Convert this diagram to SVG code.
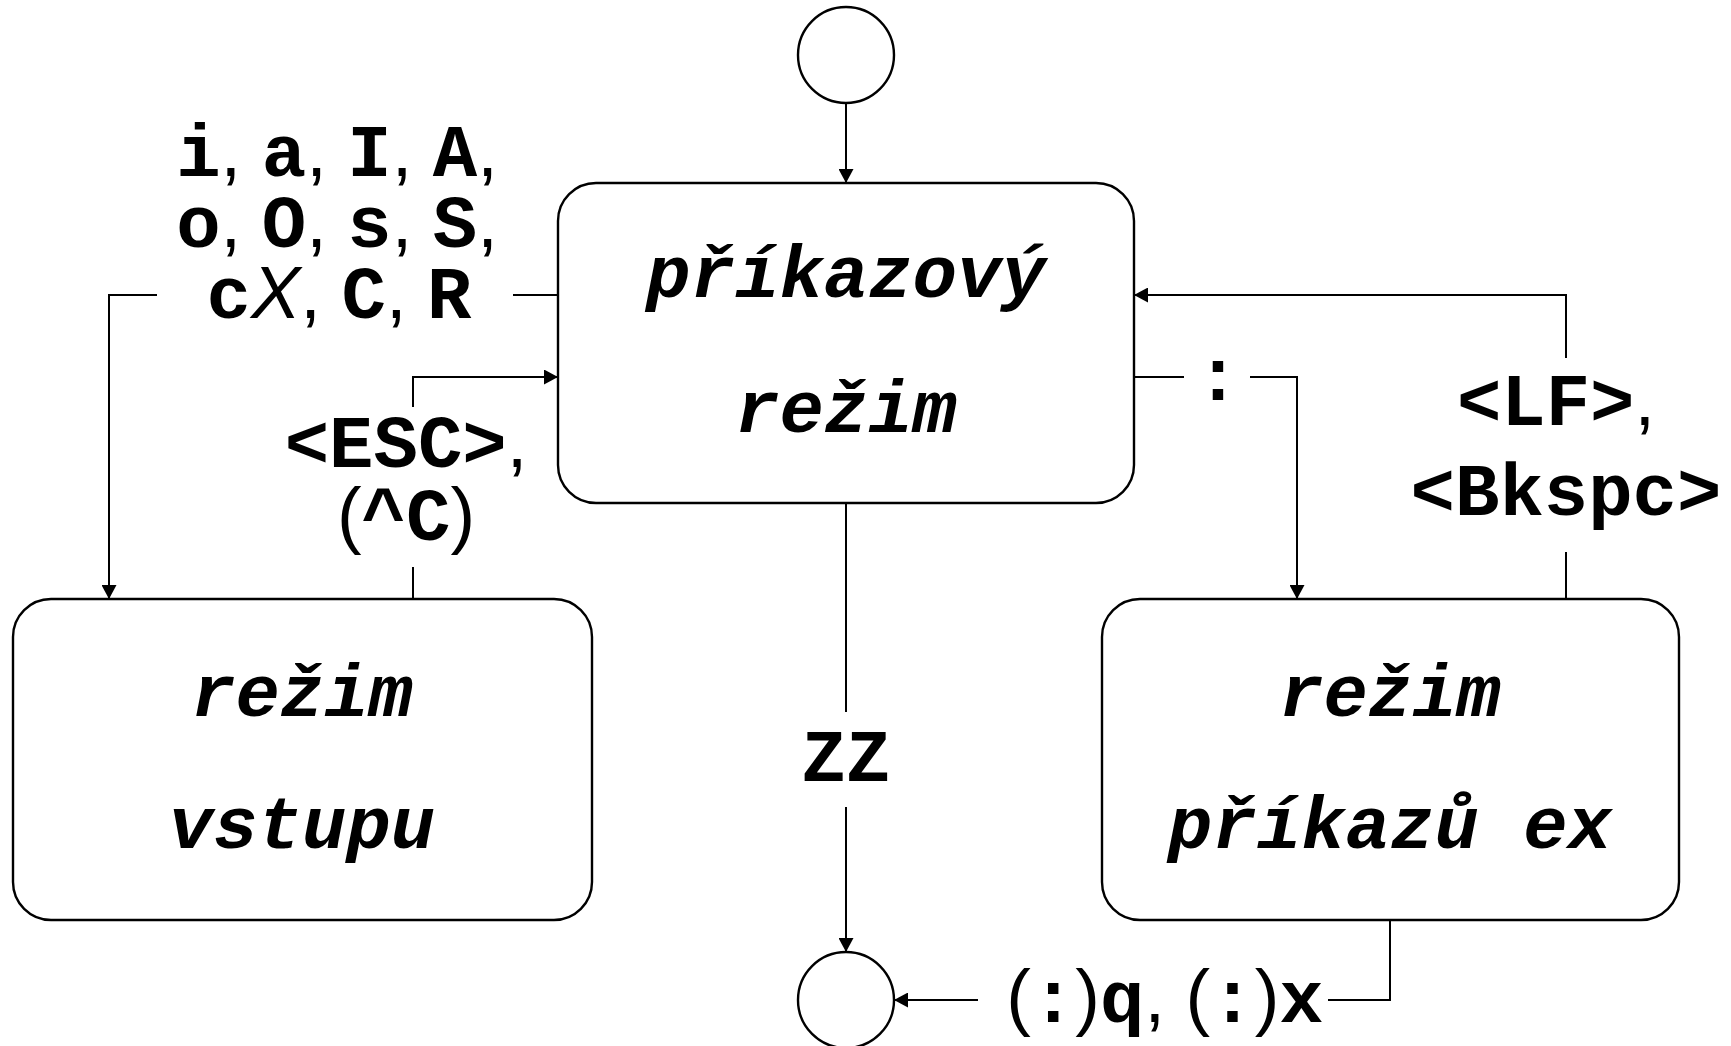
<svg xmlns="http://www.w3.org/2000/svg" width="1731" height="1046" viewBox="0 0 1731 1046">
<style>
.shape{fill:#fff;stroke:#000;stroke-width:2.4}
.edge{fill:none;stroke:#000;stroke-width:2}
.node{font-family:"Liberation Mono","Courier New",monospace;font-weight:bold;font-style:italic;font-size:74px;text-anchor:middle;fill:#000}
.lbl{font-family:"Liberation Mono","Courier New",monospace;font-weight:bold;font-size:74px;text-anchor:middle;fill:#000}
.p{font-family:"Liberation Sans",Arial,sans-serif;font-weight:normal}
.pi{font-family:"Liberation Sans",Arial,sans-serif;font-weight:normal;font-style:italic}
</style>
<defs>
<marker id="ah" markerUnits="userSpaceOnUse" markerWidth="14" markerHeight="15" refX="14" refY="7.5" orient="auto">
<path d="M0,0 L14,7.5 L0,15 z" fill="#000"/>
</marker>
</defs>
<rect width="1731" height="1046" fill="#fff"/>

<g id="start">
<circle class="shape" cx="846" cy="55" r="48"/>
</g>
<g id="end">
<circle class="shape" cx="846" cy="1000" r="48"/>
</g>
<g id="prikazovy">
<rect class="shape" x="558" y="183" width="576" height="320" rx="38" ry="38"/>
<text class="node" x="846" y="297">příkazový</text>
<text class="node" x="846" y="432">režim</text>
</g>
<g id="vstup">
<rect class="shape" x="13" y="599" width="579" height="321" rx="38" ry="38"/>
<text class="node" x="302" y="716">režim</text>
<text class="node" x="302" y="848">vstupu</text>
</g>
<g id="ex">
<rect class="shape" x="1102" y="599" width="577" height="321" rx="38" ry="38"/>
<text class="node" x="1390" y="716">režim</text>
<text class="node" x="1390" y="848">příkazů ex</text>
</g>

<g id="connectors">
<path class="edge" d="M846,103 V183" marker-end="url(#ah)"/>
<path class="edge" d="M558,295 H513"/>
<path class="edge" d="M157,295 H109 V599" marker-end="url(#ah)"/>
<path class="edge" d="M413,599 V567"/>
<path class="edge" d="M413,407 V377 H558" marker-end="url(#ah)"/>
<path class="edge" d="M1134,377 H1184"/>
<path class="edge" d="M1250,377 H1297 V599" marker-end="url(#ah)"/>
<path class="edge" d="M1566,599 V552"/>
<path class="edge" d="M1566,358 V295 H1134" marker-end="url(#ah)"/>
<path class="edge" d="M846,503 V712"/>
<path class="edge" d="M846,807 V952" marker-end="url(#ah)"/>
<path class="edge" d="M1390,920 V1000 H1328"/>
<path class="edge" d="M978,1000 H894" marker-end="url(#ah)"/>
</g>

<g id="labels">
<text class="lbl" x="337" y="176">i<tspan class="p">, </tspan>a<tspan class="p">, </tspan>I<tspan class="p">, </tspan>A<tspan class="p">,</tspan></text>
<text class="lbl" x="337" y="247">o<tspan class="p">, </tspan>O<tspan class="p">, </tspan>s<tspan class="p">, </tspan>S<tspan class="p">,</tspan></text>
<text class="lbl" x="339" y="318">c<tspan class="pi">X</tspan><tspan class="p">, </tspan>C<tspan class="p">, </tspan>R</text>
<text class="lbl" x="406" y="467">&lt;ESC&gt;<tspan class="p">,</tspan></text>
<text class="lbl" x="406" y="540"><tspan class="p">(</tspan>^C<tspan class="p">)</tspan></text>
<text class="lbl" x="1218" y="400">:</text>
<text class="lbl" x="1556" y="425">&lt;LF&gt;<tspan class="p">,</tspan></text>
<text class="lbl" x="1566" y="515">&lt;Bkspc&gt;</text>
<text class="lbl" x="846" y="781">ZZ</text>
<text class="lbl" x="1165" y="1022"><tspan class="p">(</tspan>:<tspan class="p">)</tspan>q<tspan class="p">, (</tspan>:<tspan class="p">)</tspan>x</text>
</g>
</svg>
